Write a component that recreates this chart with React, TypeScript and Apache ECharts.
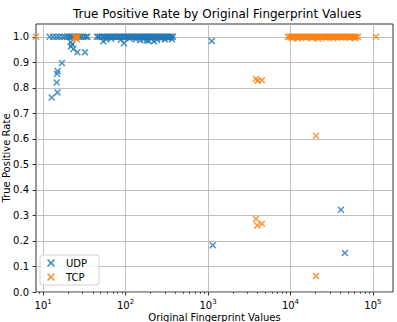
import React, { useEffect, useRef } from 'react';
import * as echarts from 'echarts';

// UDP: original fingerprint value -> true positive rate
const udpValues = [
  12.0, 13.2, 14.4, 15.6, 17.0, 18.3,
  19.5, 20.5, 21.5, 22.3, 23.5, 24.5, 26.0, 27.5, 29.0, 31.0, 33.0, 34.5,
  45, 47, 49, 52, 55, 57, 60, 62, 65, 68, 70, 73, 76, 80, 83, 86, 90, 94, 98,
  102, 106, 110, 115, 120, 124, 129, 135, 140, 146, 152, 158, 164, 170, 177,
  184, 191, 199, 207, 215, 224, 233, 242, 252, 262, 273, 284, 296, 308, 320,
  333, 346, 360, 375,
  58, 67, 88, 112, 133, 150, 165, 180, 205, 240, 270, 300, 330, 365,
  12.7, 14.9, 14.6, 14.8, 15.0, 16.9, 21.8, 22.5, 23.3, 26.1, 32.3, 21.6,
  53.8, 95.5, 190, 221, 1109, 1140, 40900, 45700,
];
const udpRates = [
  1, 1, 1, 1, 1, 1,
  1, 1, 1, 1, 1, 1, 1, 1, 1, 1, 1, 1,
  1, 1, 1, 1, 1, 1, 1, 1, 1, 1, 1, 1, 1, 1, 1, 1, 1, 1, 1,
  1, 1, 1, 1, 1, 1, 1, 1, 1, 1, 1, 1, 1, 1, 1,
  1, 1, 1, 1, 1, 1, 1, 1, 1, 1, 1, 1, 1, 1, 1,
  1, 1, 1, 1,
  0.99, 0.992, 0.988, 0.993, 0.99, 0.987, 0.99, 0.986, 0.991, 0.988, 0.992, 0.99, 0.994, 0.99,
  0.762, 0.782, 0.821, 0.855, 0.866, 0.897, 0.962, 0.97, 0.952, 0.939, 0.939, 0.979,
  0.982, 0.975, 0.984, 0.982, 0.983, 0.183, 0.322, 0.153,
];

// TCP: original fingerprint value -> true positive rate
const tcpValues = [
  8.2, 24.2, 25.0, 25.6, 26.2, 25.3,
  3800, 4000, 4500, 3820, 3950, 4500, 20400, 20400, 108700,
  9300, 9700, 10100, 10600, 11000, 11500, 12000, 12600, 13100, 13700, 14300,
  15000, 15600, 16300, 17000, 17800, 18600, 19400, 20300, 21200, 22100, 23100,
  24100, 25200, 26300, 27500, 28700, 30000, 31300, 32700, 34200, 35700, 37300,
  39000, 40700, 42500, 44400, 46400, 48500, 50600, 52900, 55200, 57700, 60300,
  63000, 65800,
  10400, 12300, 15300, 18200, 21700, 26800, 33000, 41500, 52000, 61000,
];
const tcpRates = [
  1, 1, 0.995, 0.99, 1, 1,
  0.835, 0.828, 0.83, 0.286, 0.261, 0.267, 0.612, 0.063, 1,
  1, 1, 1, 1, 1, 1, 1, 1, 1, 1, 1,
  1, 1, 1, 1, 1, 1, 1, 1, 1, 1, 1,
  1, 1, 1, 1, 1, 1, 1, 1, 1, 1, 1,
  1, 1, 1, 1, 1, 1, 1, 1, 1, 1, 1,
  1, 1,
  0.995, 0.993, 0.996, 0.994, 0.992, 0.995, 0.994, 0.996, 0.995, 0.994,
];

// decade exponents shown on the logarithmic x axis
const xDecades = [1, 2, 3, 4, 5];
const yTicks = [0, 0.1, 0.2, 0.3, 0.4, 0.5, 0.6, 0.7, 0.8, 0.9, 1.0];

const X_MIN = 8.2;
const X_MAX = 175000;

// filled "x" marker so it renders the same in the plot and the legend
const X_MARK = 'path://M0,1.5L1.5,0L5,3.5L8.5,0L10,1.5L6.5,5L10,8.5L8.5,10L5,6.5L1.5,10L0,8.5L3.5,5Z';

const FONT = 'DejaVu Sans';
const BLUE = '#1f77b4';
const ORANGE = '#ff7f0e';

const lg = (v: number) => Math.log10(v);

// positions (in log10 units) of the 2..9 minor ticks within each decade
function minorTicks(): number[] {
  const out: number[] = [];
  for (let e = 0; e <= 5; e++) {
    for (let k = 2; k <= 9; k++) {
      const p = e + lg(k);
      if (p > lg(X_MIN) && p < lg(X_MAX)) out.push(p);
    }
  }
  return out;
}

function pairs(xs: number[], ys: number[]) {
  return xs.map((x, i) => [lg(x), ys[i]]);
}

export default function App() {
  const ref = useRef<HTMLDivElement>(null);

  useEffect(() => {
    document.body.style.margin = '0';
    if (!ref.current) return;
    const chart = echarts.init(ref.current, undefined, { renderer: 'svg' });
    chart.setOption({
      animation: false,
      textStyle: { fontFamily: FONT },
      title: {
        text: 'True Positive Rate by Original Fingerprint Values',
        left: 68,
        top: 3,
        textStyle: { fontFamily: FONT, fontSize: 12, fontWeight: 'normal', color: '#000' },
      },
      grid: {
        left: 36,
        right: 4,
        top: 24,
        bottom: 30,
        containLabel: false,
        outerBoundsMode: 'none',
        show: true,
        borderColor: '#333',
        borderWidth: 1,
        backgroundColor: '#fff',
      },
      legend: {
        orient: 'vertical',
        left: 40,
        top: 255,
        itemWidth: 14,
        itemHeight: 8,
        itemGap: 4,
        padding: [3, 12, 3, 7],
        borderColor: '#d0d0d0',
        borderWidth: 1,
        borderRadius: 3,
        backgroundColor: 'rgba(255,255,255,0.8)',
        textStyle: { fontFamily: FONT, fontSize: 10, color: '#000', padding: [0, 0, 0, 3] },
        data: ['UDP', 'TCP'],
      },
      xAxis: [
        {
          type: 'value',
          min: lg(X_MIN),
          max: lg(X_MAX),
          name: 'Original Fingerprint Values',
          nameLocation: 'middle',
          nameGap: 20,
          nameMoveOverlap: false,
          nameTextStyle: { fontFamily: FONT, fontSize: 10, color: '#000' },
          axisLine: { show: false },
          axisTick: {
            show: true,
            length: 3.5,
            customValues: xDecades,
            lineStyle: { color: '#000', width: 0.8 },
          },
          axisLabel: {
            customValues: xDecades,
            margin: 6,
            formatter: (v: number) => `{b|10}{s|${Math.round(v)}}`,
            rich: {
              b: { fontFamily: FONT, fontSize: 10, color: '#000', lineHeight: 12, verticalAlign: 'bottom' },
              s: { fontFamily: FONT, fontSize: 7, color: '#000', lineHeight: 12, verticalAlign: 'top' },
            },
          },
          splitLine: { show: true, lineStyle: { color: '#b0b0b0', width: 0.8 } },
        },
        {
          type: 'value',
          min: lg(X_MIN),
          max: lg(X_MAX),
          position: 'bottom',
          axisLine: { show: false },
          axisLabel: { show: false },
          splitLine: { show: false },
          axisTick: {
            show: true,
            length: 2,
            customValues: minorTicks(),
            lineStyle: { color: '#000', width: 0.6 },
          },
        },
      ],
      yAxis: {
        type: 'value',
        min: 0,
        max: 1.05,
        name: 'True Positive Rate',
        nameLocation: 'middle',
        nameGap: 25,
        nameMoveOverlap: false,
        nameTextStyle: { fontFamily: FONT, fontSize: 10, color: '#000' },
        axisLine: { show: false },
        axisTick: {
          show: true,
          length: 3.5,
          customValues: yTicks,
          lineStyle: { color: '#000', width: 0.8 },
        },
        axisLabel: {
          customValues: yTicks,
          margin: 7,
          fontFamily: FONT,
          fontSize: 10,
          color: '#000',
          formatter: (v: number) => v.toFixed(1),
        },
        splitLine: { show: true, lineStyle: { color: '#b0b0b0', width: 0.8 } },
      },
      series: [
        {
          name: 'UDP',
          type: 'scatter',
          xAxisIndex: 0,
          symbol: X_MARK,
          symbolSize: 7,
          symbolKeepAspect: true,
          itemStyle: { color: BLUE },
          data: pairs(udpValues, udpRates),
        },
        {
          name: 'TCP',
          type: 'scatter',
          xAxisIndex: 0,
          symbol: X_MARK,
          symbolSize: 7,
          symbolKeepAspect: true,
          itemStyle: { color: ORANGE },
          data: pairs(tcpValues, tcpRates),
        },
      ],
    });
    return () => chart.dispose();
  }, []);

  return <div ref={ref} style={{ width: 397, height: 322 }} />;
}
